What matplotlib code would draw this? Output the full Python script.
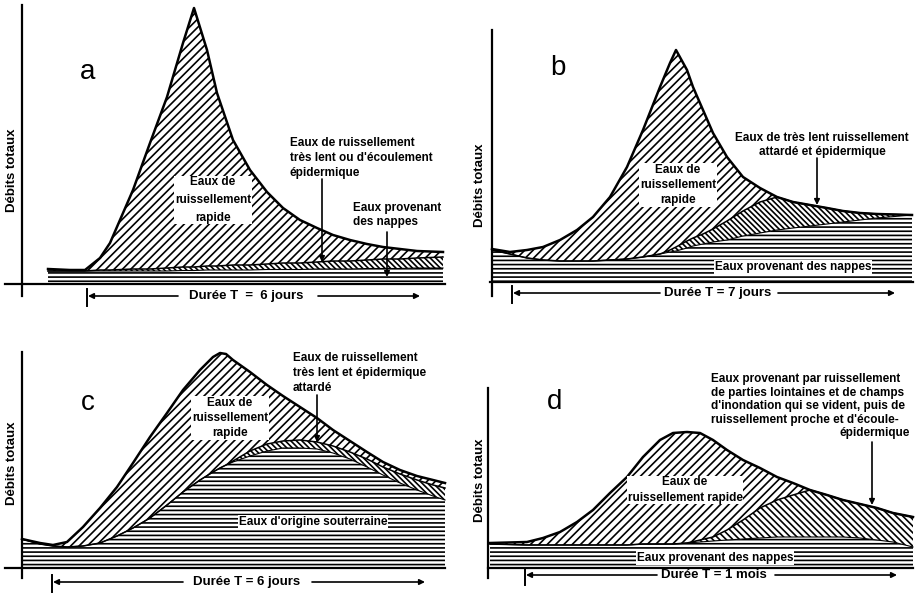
import matplotlib.pyplot as plt

plt.rcParams['font.family'] = ['Liberation Sans', 'DejaVu Sans']
plt.rcParams['hatch.linewidth'] = 1.2

# values (t = time from origin, q = discharge)
# a : 6 jours
t_a = [26, 48, 63, 78, 88, 111, 128, 145, 161, 172, 185, 195, 211, 228, 245,
       261, 278, 295, 311, 328, 345, 361, 378, 395, 421]
total_a = [15, 14, 14, 26, 41, 94, 141, 187, 241, 276, 234, 191, 144, 114, 92,
           76, 64, 56, 49, 44, 40, 37, 35, 33, 32]
lent_a = [13, 13, 13, 14, 14, 15, 15, 16, 17, 17, 18, 18, 19, 19, 20,
          21, 21, 22, 23, 23, 24, 25, 25, 26, 27]
nappes_a = [13, 13, 13, 13, 13, 13, 13, 13, 13.5, 13.5, 14, 14, 14, 14, 14.5,
            14.5, 14.5, 15, 15, 15, 15.5, 15.5, 15.5, 16, 16]

# b : 7 jours
t_b = [0, 18, 35, 51, 68, 85, 101, 118, 135, 151, 168, 178, 184, 195, 201,
       211, 221, 235, 251, 268, 285, 301, 318, 335, 351, 368, 385, 420]
total_b = [33, 30, 32, 35, 42, 52, 65, 85, 115, 152, 195, 219, 232, 212, 195,
           172, 149, 125, 105, 94, 85, 80, 77, 74, 71, 69, 68, 67]
lent_b = [32, 28, 24, 22, 21, 21, 21, 22, 23, 25, 28, 32, 35, 41, 44,
          48, 53, 61, 71, 80, 85, 80, 77, 74, 71, 69, 68, 67]
nappes_b = [32, 28, 24, 22, 21, 21, 21, 22, 23, 25, 28, 30, 31, 34, 36,
            38, 40, 42, 46, 49, 52, 54, 56, 58, 60, 62, 64, 67]

# c : 6 jours
t_c = [0, 18, 31, 45, 61, 78, 95, 111, 128, 145, 161, 178, 191, 198, 204,
       211, 228, 245, 261, 278, 295, 311, 328, 345, 361, 378, 395, 411, 423]
total_c = [29, 25, 23, 26, 41, 60, 81, 105, 131, 155, 178, 198, 211, 215, 214,
           208, 196, 183, 172, 161, 150, 138, 127, 116, 106, 98, 92, 88, 85]
lent_c = [29, 24, 22, 21, 22, 25, 32, 40, 50, 63, 76, 88, 96, 100, 103,
          107, 117, 124, 127, 128, 126, 122, 116, 109, 101, 94, 88, 83, 80]
souterr_c = [29, 24, 22, 21, 22, 25, 32, 40, 50, 63, 76, 88, 96, 100, 103,
             106, 112, 117, 120, 120, 119, 115, 109, 101, 93, 85, 78, 72, 68]

# d : 1 mois
t_d = [2, 39, 55, 72, 89, 105, 122, 139, 155, 172, 185, 199, 212, 225, 239,
       255, 272, 289, 305, 322, 339, 355, 372, 389, 405, 425]
total_d = [25, 26, 30, 36, 46, 58, 75, 91, 111, 128, 135, 136, 135, 128, 118,
           108, 100, 91, 85, 78, 73, 68, 64, 60, 55, 51]
lent_d = [24, 23, 23, 23, 23, 23, 23, 23, 24, 24, 24, 25, 28, 31, 38,
          48, 60, 68, 73, 78, 73, 68, 64, 60, 55, 51]
nappes_d = [24, 23, 23, 23, 23, 23, 23, 23, 24, 24, 24, 25, 26, 27, 28,
            29, 30, 31, 31, 31, 31, 31, 30, 28, 26, 21]

W, H = 918, 595
fig = plt.figure(figsize=(W / 100, H / 100), dpi=100)
fig.set_facecolor('white')

TXT = dict(fontsize=8.5, fontweight='bold', color='black')
WHITE = dict(facecolor='white', edgecolor='none', pad=0.4)


def panel(px, py, pw, ph, ox, oy, yspan, xspan):
    # axes in pixel box, 1 data unit = 1 pixel, origin at (ox, oy)
    ax = fig.add_axes([px / W, 1 - (py + ph) / H, pw / W, ph / H])
    ax.set_xlim(px - ox, px + pw - ox)
    ax.set_ylim(oy - (py + ph), oy - py)
    ax.patch.set_alpha(0)
    for s in ['top', 'right']:
        ax.spines[s].set_visible(False)
    ax.spines['left'].set_position(('data', 0))
    ax.spines['bottom'].set_position(('data', 0))
    ax.spines['left'].set_bounds(*yspan)
    ax.spines['bottom'].set_bounds(*xspan)
    ax.spines['left'].set_linewidth(1.6)
    ax.spines['bottom'].set_linewidth(1.6)
    ax.set_xticks([])
    ax.set_yticks([])
    return ax


def layers(ax, t, total, lent, base, hatch_lent='\\' * 6):
    ax.fill_between(t, 0, base, facecolor='white', edgecolor='black',
                    hatch='----', linewidth=0)
    ax.fill_between(t, base, lent, facecolor='white', edgecolor='black',
                    hatch=hatch_lent, linewidth=0)
    ax.fill_between(t, lent, total, facecolor='white', edgecolor='black',
                    hatch='////', linewidth=0)
    ax.plot(t, base, color='black', lw=0.8)
    ax.plot(t, lent, color='black', lw=1.1)
    ax.plot(t, total, color='black', lw=1.8)


def arrow(ax, x, y0, y1):
    ax.annotate('', xy=(x, y1), xytext=(x, y0),
                arrowprops=dict(arrowstyle='-|>', color='black', lw=1.2,
                                mutation_scale=8, shrinkA=0, shrinkB=0))


def duree(ax, label, t0, t1, y, gap0, gap1, tc):
    ax.plot([t0, t0], [y + 7, y - 10], color='black', lw=1.4, clip_on=False)
    for a, b in [(gap0, t0 + 1), (gap1, t1)]:
        ax.annotate('', xy=(b, y), xytext=(a, y), annotation_clip=False,
                    arrowprops=dict(arrowstyle='-|>', color='black', lw=1.2,
                                    mutation_scale=8, shrinkA=0, shrinkB=0))
    ax.text(tc, y, label, ha='center', va='center', fontsize=9.5,
            fontweight='bold')


def common(ax, letter, lpos, ylab_pos):
    ax.text(lpos[0], lpos[1], letter, ha='center', va='center', fontsize=20)
    ax.text(ylab_pos[0], ylab_pos[1], 'Débits totaux', rotation=90,
            ha='center', va='center', fontsize=9.5, fontweight='bold')


# ---- a
ax = panel(0, 0, 459, 300, 22, 284, (-12, 279), (-17, 423))
layers(ax, t_a, total_a, lent_a, nappes_a)
common(ax, 'a', (66, 212), (-10, 114))
ax.text(191, 84, 'Eaux de\nruissellement\nrapide', ha='center', va='center',
        linespacing=1.64, bbox=WHITE, **TXT)
ax.text(268, 126, "Eaux de ruissellement\ntrès lent ou d'écoulement\népidermique",
        ha='left', va='center', linespacing=1.32, **TXT)
arrow(ax, 300, 105, 22)
ax.text(331, 69, 'Eaux provenant\ndes nappes', ha='left', va='center',
        linespacing=1.32, **TXT)
arrow(ax, 365, 52, 7)
duree(ax, 'Durée T  =  6 jours', 65, 398, -12, 156, 296, 224)

# ---- b
ax = panel(460, 0, 458, 300, 492, 282, (-14, 252), (-2, 421))
layers(ax, t_b, total_b, lent_b, nappes_b)
common(ax, 'b', (66, 214), (-12, 97))
ax.text(186, 97, 'Eaux de\nruissellement\nrapide', ha='center', va='center',
        linespacing=1.36, bbox=WHITE, **TXT)
ax.text(330, 137, 'Eaux de très lent ruissellement\nattardé et épidermique',
        ha='center', va='center', linespacing=1.3, **TXT)
arrow(ax, 325, 124, 77)
ax.text(301, 15, 'Eaux provenant des nappes', ha='center', va='center',
        bbox=WHITE, **TXT)
duree(ax, 'Durée T = 7 jours', 20, 403, -11, 168, 286, 226)

# ---- c
ax = panel(0, 300, 459, 295, 22, 568, (-10, 216), (-17, 423))
layers(ax, t_c, total_c, lent_c, souterr_c, hatch_lent='\\' * 6)
common(ax, 'c', (66, 165), (-10, 105))
ax.text(208, 150, 'Eaux de\nruissellement\nrapide', ha='center', va='center',
        linespacing=1.36, bbox=WHITE, **TXT)
ax.text(271, 195, 'Eaux de ruissellement\ntrès lent et épidermique\nattardé',
        ha='left', va='center', linespacing=1.3, **TXT)
arrow(ax, 295, 173, 126)
ax.text(291, 46, "Eaux d'origine souterraine", ha='center', va='center',
        bbox=WHITE, **TXT)
duree(ax, 'Durée T = 6 jours', 30, 403, -14, 161, 290, 225)

# ---- d
ax = panel(460, 300, 458, 295, 488, 568, (-10, 180), (0, 425))
layers(ax, t_d, total_d, lent_d, nappes_d, hatch_lent='\\' * 5)
common(ax, 'd', (67, 166), (-8, 88))
ax.text(197, 78, 'Eaux de\nruissellement rapide', ha='center', va='center',
        linespacing=1.36, bbox=WHITE, **TXT)
ax.text(223, 168.5, 'Eaux provenant par ruissellement\nde parties lointaines et de champs\n'
        "d'inondation qui se vident, puis de\nruissellement proche et d'écoule-",
        ha='left', va='center', linespacing=1.18, **TXT)
ax.text(422, 135, 'épidermique', ha='right', va='center', **TXT)
arrow(ax, 384, 126, 63)
ax.text(227, 10, 'Eaux provenant des nappes', ha='center', va='center',
        bbox=WHITE, **TXT)
duree(ax, 'Durée T = 1 mois', 37, 409, -7, 169, 287, 226)

plt.savefig('out.png', dpi=100, facecolor=fig.get_facecolor())
plt.close()
